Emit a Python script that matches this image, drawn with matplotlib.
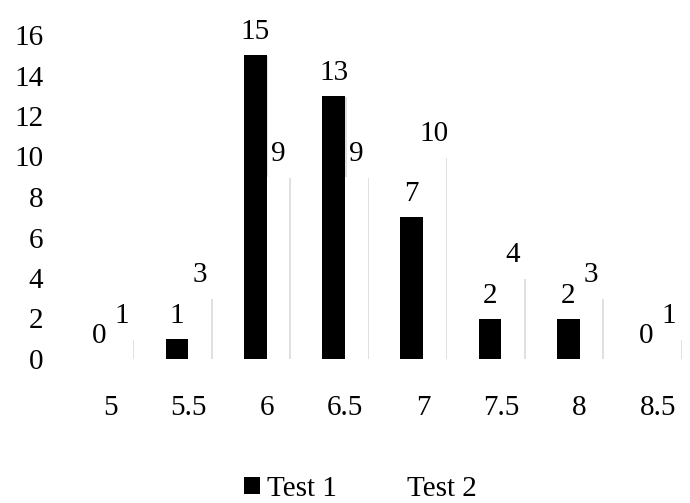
import matplotlib
matplotlib.use("Agg")
import matplotlib.pyplot as plt
import matplotlib.patheffects as pe
from matplotlib.patches import Patch
import numpy as np

categories = ["5", "5.5", "6", "6.5", "7", "7.5", "8", "8.5"]
test1 = [0, 1, 15, 13, 7, 2, 2, 0]
test2 = [1, 3, 9, 9, 10, 4, 3, 1]
yticks = [0, 2, 4, 6, 8, 10, 12, 14, 16]

plt.rcParams['font.family'] = ['Liberation Serif', 'DejaVu Serif']
FS = 21

W, H = 690, 503
fig = plt.figure(figsize=(W / 100, H / 100), dpi=100)
ax = fig.add_axes([71 / W, (H - 359) / H, (697 - 71) / W, 324 / H])

x = np.arange(len(categories))
bw = 0.29
shadow = [pe.SimplePatchShadow(offset=(1.2, -0.8), shadow_rgbFace='#000000', alpha=0.12), pe.Normal()]
b1 = ax.bar(x - bw / 2, test1, bw, color='black', label='Test 1', path_effects=shadow, zorder=2)
b2 = ax.bar(x + bw / 2, test2, bw, color='white', label='Test 2', path_effects=shadow, zorder=2)

for bars, vals in ((b1, test1), (b2, test2)):
    for r, v in zip(bars, vals):
        ax.annotate(str(v), (r.get_x() + r.get_width() / 2, v), xytext=(0, 11.5),
                    textcoords='offset points', ha='center', va='baseline',
                    fontsize=FS, annotation_clip=False)

ax.set_xlim(-0.5, len(categories) - 0.5)
ax.set_ylim(0, 16)
ax.set_yticks(yticks)
ax.set_xticks(x)
ax.set_xticklabels(categories)
for s in ax.spines.values():
    s.set_visible(False)
ax.tick_params(axis='both', length=0, labelsize=FS)
ax.tick_params(axis='y', pad=20)
ax.tick_params(axis='x', pad=26)

handles = [Patch(facecolor='black', edgecolor='none', label='Test 1'),
           Patch(facecolor='white', edgecolor='none', label='Test 2')]
leg = fig.legend(handles=handles, loc='center', bbox_to_anchor=(360 / W, 1 - 489 / H),
                 ncol=2, frameon=False, fontsize=FS, handlelength=0.55, handleheight=0.55,
                 handletextpad=0.25, columnspacing=1.6)

fig.savefig("out.png", dpi=100)
